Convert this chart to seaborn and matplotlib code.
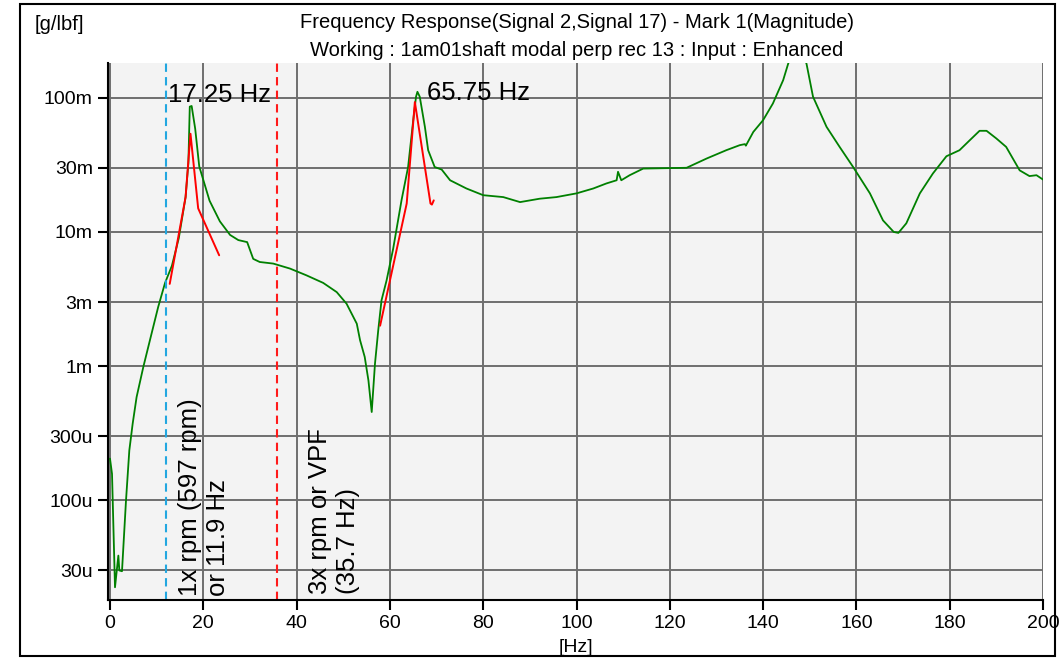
import numpy as np
import pandas as pd
import matplotlib.pyplot as plt
import seaborn as sns
from matplotlib.patches import Rectangle

# Frequency response magnitude (Hz, g/lbf)
freq_hz = [0.0, 0.43, 1.07, 1.79, 2.0, 2.57, 3.43, 4.14, 4.86, 5.7, 7.14, 8.88,
           10.33, 11.8, 13.27, 14.74, 16.2, 16.8, 17.1, 17.5, 18.26, 19.13, 21.34,
           23.55, 25.74, 27.5, 29.4, 30.7, 32.1, 35.0, 38.6, 42.1, 45.7, 48.6, 50.7,
           52.9, 53.6, 54.6, 55.4, 56.1, 56.8, 57.5, 58.2, 59.3, 60.7, 62.5, 63.9,
           65.0, 65.6, 65.9, 66.4, 67.5, 68.2, 69.6, 71.1, 72.9, 76.4, 80.0, 84.3,
           87.9, 92.1, 95.7, 100.0, 103.6, 106.4, 108.6, 108.9, 109.6, 111.4, 114.3,
           123.6, 127.9, 132.1, 135.0, 136.1, 136.3, 137.9, 140.0, 142.1, 144.3,
           145.4, 147.5, 149.3, 150.7, 153.6, 156.4, 159.3, 162.9, 165.7, 168.0,
           169.0, 170.7, 173.6, 176.4, 179.3, 182.1, 184.3, 186.4, 187.9, 190.0,
           192.1, 195.0, 197.1, 198.6, 200.0]
magnitude = [2.04e-4, 1.57e-4, 2.24e-5, 3.86e-5, 2.99e-5, 2.95e-5, 9.95e-5, 2.35e-4,
             3.72e-4, 5.87e-4, 9.84e-4, 1.73e-3, 2.76e-3, 4.17e-3, 5.60e-3, 8.97e-3,
             1.82e-2, 3.27e-2, 8.6e-2, 8.7e-2, 5.89e-2, 3.08e-2, 1.71e-2, 1.20e-2,
             9.5e-3, 8.7e-3, 8.4e-3, 6.3e-3, 5.97e-3, 5.81e-3, 5.33e-3, 4.75e-3,
             4.17e-3, 3.56e-3, 2.92e-3, 2.07e-3, 1.56e-3, 1.17e-3, 7.8e-4, 4.54e-4,
             1.04e-3, 1.85e-3, 3.09e-3, 4.37e-3, 7.5e-3, 1.73e-2, 3.05e-2, 6.82e-2,
             1.02e-1, 1.11e-1, 1.02e-1, 6.08e-2, 4.07e-2, 3.05e-2, 2.92e-2, 2.43e-2,
             2.11e-2, 1.88e-2, 1.82e-2, 1.67e-2, 1.77e-2, 1.82e-2, 1.94e-2, 2.11e-2,
             2.30e-2, 2.43e-2, 2.81e-2, 2.43e-2, 2.65e-2, 2.97e-2, 3.01e-2, 3.53e-2,
             4.07e-2, 4.44e-2, 4.52e-2, 4.4e-2, 5.57e-2, 6.82e-2, 9.08e-2, 1.355e-1,
             1.81e-1, 2.5e-1, 1.80e-1, 1.02e-1, 6.08e-2, 4.31e-2, 3.05e-2, 1.94e-2,
             1.22e-2, 1.0e-2, 9.84e-3, 1.16e-2, 1.94e-2, 2.73e-2, 3.67e-2, 4.07e-2,
             4.83e-2, 5.68e-2, 5.68e-2, 4.98e-2, 4.31e-2, 2.88e-2, 2.61e-2, 2.65e-2,
             2.46e-2]

# red peak fit lines
fit1_hz = [12.8, 16.2, 17.25, 18.9, 23.4]
fit1_mag = [4.1e-3, 1.82e-2, 5.4e-2, 1.5e-2, 6.7e-3]
fit2_hz = [57.9, 63.6, 65.35, 68.7, 69.0, 69.4]
fit2_mag = [2.0e-3, 1.63e-2, 9.3e-2, 1.63e-2, 1.6e-2, 1.72e-2]

rpm_1x_hz = 11.9
vpf_hz = 35.7

ytick_vals = [1e-1, 3e-2, 1e-2, 3e-3, 1e-3, 3e-4, 1e-4, 3e-5]
ytick_labels = ["100m", "30m", "10m", "3m", "1m", "300u", "100u", "30u"]
xtick_vals = list(range(0, 201, 20))

sns.set_style("whitegrid")
plt.rcParams['font.family'] = ['Liberation Sans', 'DejaVu Sans']
plt.rcParams['text.color'] = 'black'

W, H = 1064, 658
fig = plt.figure(figsize=(W / 100, H / 100), dpi=100)
ax = fig.add_axes([108 / W, 1 - 600 / H, (1043 - 108) / W, (600 - 63) / H])
ax.set_facecolor('#f3f3f3')

df = pd.DataFrame({'Hz': freq_hz, 'mag': magnitude})
sns.lineplot(data=df, x='Hz', y='mag', color='green', lw=1.3,
             estimator=None, ax=ax)
ax.plot(fit1_hz, fit1_mag, color='red', lw=1.4)
ax.plot(fit2_hz, fit2_mag, color='red', lw=1.4)

ax.axvline(rpm_1x_hz, color='#22a7e0', lw=1.5, ls=(0, (4, 2.5)))
ax.axvline(vpf_hz, color='#ff1a1a', lw=1.5, ls=(0, (4, 2.5)))

ax.set_yscale('log')
ax.set_xlim(-0.43, 200)
ax.set_ylim(1.8e-5, 0.182)
ax.set_yticks(ytick_vals)
ax.set_yticklabels(ytick_labels)
ax.set_xticks(xtick_vals)
ax.minorticks_off()
ax.set_xlabel('')
ax.set_ylabel('')

ax.grid(True, color='#6e6e6e', lw=1.4)
ax.set_axisbelow(True)
for s in ['top', 'right']:
    ax.spines[s].set_visible(False)
for s in ['left', 'bottom']:
    ax.spines[s].set_color('black')
    ax.spines[s].set_linewidth(1.5)
ax.tick_params(axis='both', direction='out', length=7, width=1.5,
               color='black', labelsize=14, labelcolor='black', pad=4,
               left=True, bottom=True)

# marker annotations
ax.text(12.4, 0.093, '17.25 Hz', fontsize=18.5, va='baseline', ha='left')
ax.text(67.9, 0.097, '65.75 Hz', fontsize=18.5, va='baseline', ha='left')
ax.text(14.6, 1.94e-5, '1x rpm (597 rpm)\nor 11.9 Hz', rotation=90,
        fontsize=18.5, ha='left', va='bottom')
ax.text(42.4, 2.0e-5, '3x rpm or VPF\n(35.7 Hz)', rotation=90,
        fontsize=18.5, ha='left', va='bottom')

# header / unit texts
fig.text(577 / W, 1 - 22 / H,
         'Frequency Response(Signal 2,Signal 17) - Mark 1(Magnitude)',
         ha='center', va='center', fontsize=14.5)
fig.text(577 / W, 1 - 50 / H,
         'Working : 1am01shaft modal perp rec 13 : Input : Enhanced',
         ha='center', va='center', fontsize=14.5)
fig.text(35 / W, 1 - 24 / H, '[g/lbf]', ha='left', va='center', fontsize=14.5)
fig.text(576 / W, 1 - 647 / H, '[Hz]', ha='center', va='center', fontsize=14)

fig.add_artist(Rectangle((20 / W, 1 - 656 / H), (1055 - 20) / W, (656 - 4) / H,
                         transform=fig.transFigure, fill=False,
                         ec='black', lw=1.5))

fig.savefig('out.png', dpi=100)
